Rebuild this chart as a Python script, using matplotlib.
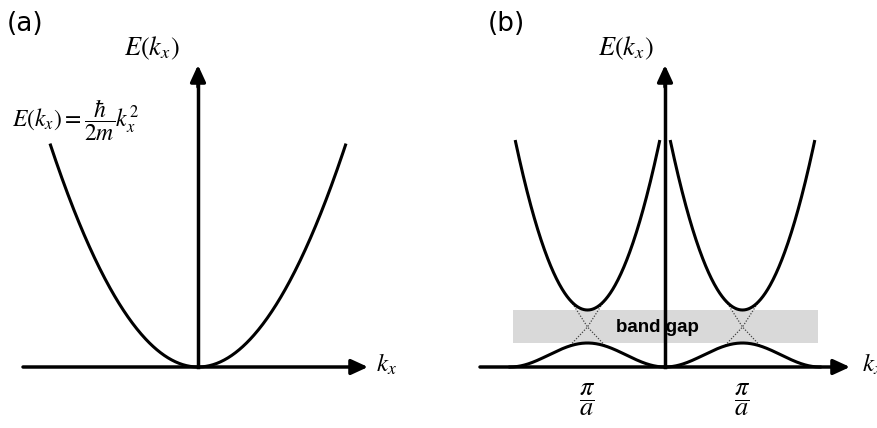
import numpy as np
import matplotlib.pyplot as plt

plt.rcParams['mathtext.fontset'] = 'stix'

# --- (a) free electron ---
a_coef = 1.02          # E = a_coef * k^2 (arb. units)
k_max_a = 1.48         # parabola drawn on [-k_max_a, k_max_a]

# --- (b) nearly free electron, G = pi/a ---
G = 0.775              # position of the zone boundary pi/a
E_cross = 0.40         # where the free-electron parabolas would cross
E_up_min = 0.57        # bottom of the upper band
E_low_max = 0.24       # top of the lower band
up_curv = 3.25         # curvature of the upper band
up_half = 0.72         # half width of the drawn upper band
dot_up = 0.165         # dotted lines meet the upper band here (offset from G)
dot_low = 0.18         # ... and the lower band here

centers = [-G, G]
axis_lw = 2.5
band_lw = 2.2


def upper_band(d):
    return E_up_min + up_curv * d**2


def lower_band(d):
    # bell shaped band, zero at the zone centre and at 2G
    return E_low_max * np.cos(np.pi * d / (2 * G))**2


def arrow(ax, x0, y0, x1, y1):
    ax.annotate('', xy=(x1, y1), xytext=(x0, y0),
                arrowprops=dict(arrowstyle='-|>,head_length=0.5,head_width=0.23',
                                mutation_scale=20, lw=axis_lw, color='black',
                                shrinkA=0, shrinkB=0))


fig = plt.figure(figsize=(8.78, 4.28), dpi=100)
ax1 = fig.add_axes([0, 0, 0.5, 1])
ax2 = fig.add_axes([0.5, 0, 0.5, 1])

ax1.set_xlim(-1.98, 2.41)
ax2.set_xlim(-2.26, 2.13)
for ax in (ax1, ax2):
    ax.set_ylim(-0.61, 3.67)
    ax.axis('off')

# ---------------- panel (a) ----------------
k = np.linspace(-k_max_a, k_max_a, 400)
ax1.plot(k, a_coef * k**2, color='black', lw=band_lw, solid_capstyle='butt')
arrow(ax1, -1.75, 0, 1.70, 0)
ax1.plot([0, 0], [0, 2.9], color='black', lw=axis_lw)
arrow(ax1, 0, 2.8, 0, 3.02)

ax1.text(-1.91, 3.43, '(a)', fontsize=19, family='DejaVu Sans', va='center', ha='left')
ax1.text(-0.46, 3.19, r'$E(k_x)$', fontsize=19, ha='center', va='center')
ax1.text(-1.22, 2.47, r'$E(k_x) = \dfrac{\hbar}{2m}k_x^2$', fontsize=17,
         ha='center', va='center')
ax1.text(1.78, 0.03, r'$k_x$', fontsize=18, ha='left', va='center')

# ---------------- panel (b) ----------------
ax2.fill_between([-1.52, 1.53], E_low_max, E_up_min, color='#d9d9d9', lw=0, zorder=0)
ax2.text(-0.08, E_cross, 'band gap', fontsize=13.5, fontweight='bold',
         family='Liberation Sans', ha='center', va='center', zorder=1)

for c in centers:
    d = np.linspace(-up_half, up_half, 300)
    ax2.plot(c + d, upper_band(d), color='black', lw=band_lw, zorder=3)
    d = np.linspace(-G, G, 300)
    ax2.plot(c + d, lower_band(d), color='black', lw=band_lw, zorder=3)
    # free-electron crossing (dotted)
    for s in (-1, 1):
        xs = [c + s * dot_up, c, c - s * dot_low]
        ys = [upper_band(dot_up), E_cross, lower_band(dot_low)]
        ax2.plot(xs, ys, color='#444444', lw=0.9, ls=(0, (1, 1.3)), zorder=2)
    ax2.text(c, -0.33, r'$\dfrac{\pi}{a}$', fontsize=19, ha='center', va='center')

arrow(ax2, -1.85, 0, 1.85, 0)
ax2.plot([0, 0], [0, 2.9], color='black', lw=axis_lw, zorder=4)
arrow(ax2, 0, 2.8, 0, 3.02)

ax2.text(-1.77, 3.43, '(b)', fontsize=19, family='DejaVu Sans', va='center', ha='left')
ax2.text(-0.39, 3.19, r'$E(k_x)$', fontsize=19, ha='center', va='center')
ax2.text(1.97, 0.03, r'$k_x$', fontsize=18, ha='left', va='center')

fig.savefig('out.png', dpi=100)
